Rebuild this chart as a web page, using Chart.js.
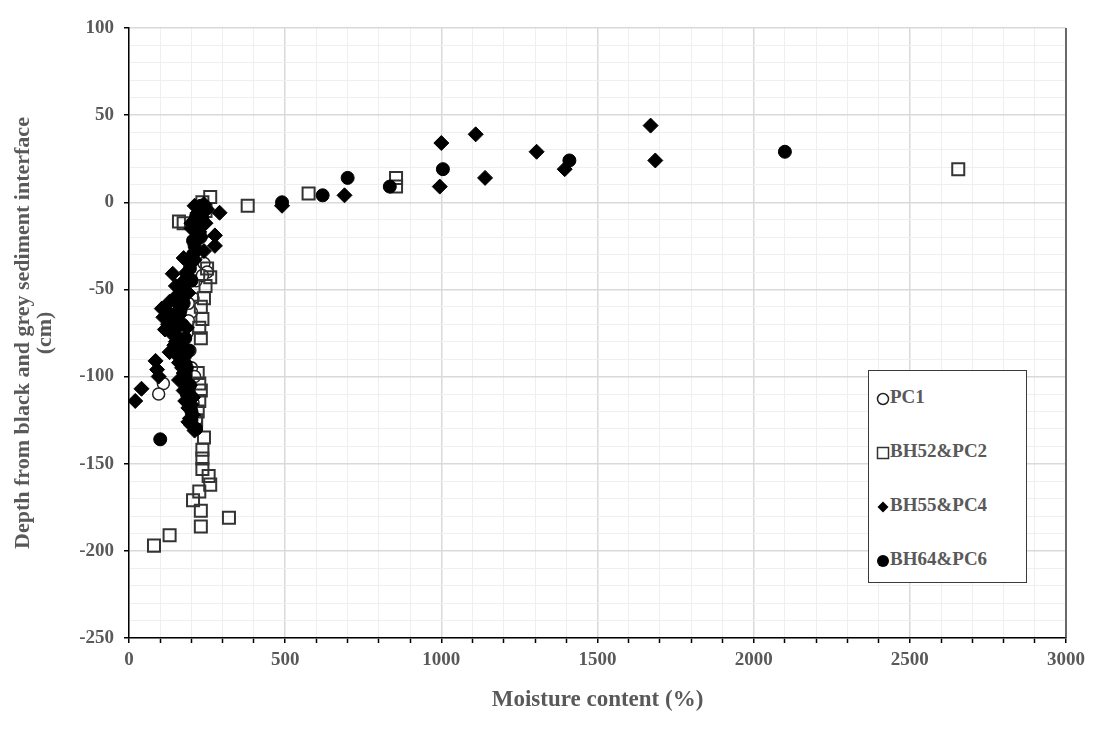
<!DOCTYPE html>
<html>
<head>
<meta charset="utf-8">
<script src="https://cdn.jsdelivr.net/npm/chart.js@4.4.1/dist/chart.umd.min.js"></script>
<style>
  body { margin: 0; background: #fff; }
  #wrap { position: relative; width: 1101px; height: 740px; }
  #legend {
    position: absolute; left: 868px; top: 370px; width: 157px; height: 211px;
    border: 1.5px solid #3a3a3a; background: #fff;
    font: bold 19px "Liberation Serif", serif; color: #595959;
  }
  .item { position: absolute; left: 7px; height: 20px; line-height: 20px; white-space: nowrap; }
  .mk { display: inline-block; vertical-align: middle; margin-right: 0px; }
</style>
</head>
<body>
<div id="wrap">
  <canvas id="chart" width="1101" height="740"></canvas>
  <div id="legend"></div>
</div>
<script>
// moisture content (%) / depth (cm) pairs per core
let pc1X = [110, 95, 225, 215, 205, 200, 190, 185, 195, 200, 210, 205, 215, 230, 215, 240, 250, 235, 190, 180];
let pc1Y = [-104, -110, -30, -45, -55, -63, -68, -75, -85, -95, -100, -115, -125, -20, -10, -35, -40, -42, -58, -88];

let bh52X = [260, 235, 245, 160, 175, 250, 260, 245, 240, 230, 235, 225, 230, 220, 225, 230, 225, 220, 215,
             240, 235, 235, 235, 255, 260, 225, 205, 230, 230, 320, 130, 80, 380, 575, 855, 855, 2655];
let bh52Y = [3, 0, -5, -11, -12, -38, -43, -48, -55, -60, -67, -72, -78, -98, -104, -108, -114, -120, -125,
             -135, -142, -147, -153, -157, -162, -166, -171, -177, -186, -181, -191, -197, -2, 5, 14, 9, 19];

let bh55X = [240, 250, 290, 230, 245, 275, 275, 225, 215, 240, 205, 140, 200, 185, 175, 165, 150, 130, 120, 105,
             110, 125, 115, 140, 160, 145, 130, 155, 85, 90, 95, 40, 20, 170, 160, 175, 180, 190, 195, 200,
             210, 165, 185, 150, 175, 200, 225, 210, 190, 170, 155, 180, 195, 205,
             210, 220, 200, 230, 210, 190, 165, 145, 130, 140, 150, 165, 175, 185, 195, 200, 205, 190, 180, 160,
             490, 690, 1000, 995, 1110, 1140, 1305, 1395, 1670, 1685];
let bh55Y = [-1, -4, -6, -8, -12, -19, -25, -17, -22, -28, -30, -41, -35, -40, -45, -50, -54, -57, -62, -61,
             -66, -70, -73, -76, -65, -82, -86, -88, -91, -96, -100, -107, -114, -95, -102, -108, -114, -118, -124, -128,
             -131, -60, -72, -48, -32, -15, -3, -10, -52, -85, -78, -92, -105, -112,
             -2, -6, -12, -20, -33, -46, -55, -64, -68, -72, -80, -84, -98, -104, -110, -116, -122, -126, -88, -92,
             -2, 4, 34, 9, 39, 14, 29, 19, 44, 24];

let bh64X = [225, 220, 210, 195, 180, 165, 150, 160, 170, 180, 185, 200, 215, 100, 230, 235, 200, 190, 175, 205,
             215, 225, 205, 185, 170, 155, 145, 170, 180, 185, 195, 200, 190, 210,
             490, 620, 700, 835, 1005, 1410, 2100];
let bh64Y = [-5, -15, -25, -38, -52, -62, -70, -80, -90, -100, -110, -120, -130, -136, -2, -10, -45, -85, -58, -22,
             -8, -18, -30, -42, -48, -57, -75, -70, -78, -95, -105, -125, -115, -12,
             0, 4, 14, 9, 19, 24, 29];

let seriesNames = ['PC1', 'BH52&PC2', 'BH55&PC4', 'BH64&PC6'];
let xTicks = [0, 500, 1000, 1500, 2000, 2500, 3000];
let yTicks = [-250, -200, -150, -100, -50, 0, 50, 100];

function pairs(xs, ys) {
	return xs.map((x, i) => ({ x: x, y: ys[i] }));
}

const grey = '#595959';
const serif = '"Liberation Serif", "Times New Roman", serif';

const frame = {
	id: 'frame',
	afterDraw(chart) {
		const a = chart.chartArea;
		const ctx = chart.ctx;
		ctx.save();
		ctx.strokeStyle = '#404040';
		ctx.lineWidth = 1.5;
		ctx.beginPath();
		ctx.moveTo(a.right, a.top);
		ctx.lineTo(a.right, a.bottom);
		ctx.stroke();
		ctx.restore();
	}
};

// lower order is drawn on top
const datasets = [
	{ label: seriesNames[0], data: pairs(pc1X, pc1Y), pointStyle: 'circle', pointRadius: 6, order: 3,
	  backgroundColor: '#fff', borderColor: '#222', borderWidth: 1.5 },
	{ label: seriesNames[1], data: pairs(bh52X, bh52Y), pointStyle: 'rect', pointRadius: 8.5, order: 2,
	  backgroundColor: 'rgba(255,255,255,0)', borderColor: '#333', borderWidth: 2 },
	{ label: seriesNames[2], data: pairs(bh55X, bh55Y), pointStyle: 'rectRot', pointRadius: 7.5, order: 0,
	  backgroundColor: '#000', borderColor: '#000', borderWidth: 1 },
	{ label: seriesNames[3], data: pairs(bh64X, bh64Y), pointStyle: 'circle', pointRadius: 6.5, order: 1,
	  backgroundColor: '#000', borderColor: '#000', borderWidth: 1 }
];

new Chart(document.getElementById('chart'), {
	type: 'scatter',
	data: { datasets: datasets },
	options: {
		responsive: false,
		animation: false,
		layout: { padding: { left: 0, top: 28, right: 35, bottom: 0 } },
		plugins: { legend: { display: false }, tooltip: { enabled: false } },
		scales: {
			x: {
				min: 0, max: 3000,
				afterFit: s => { s.height = 102; },
				border: { color: '#000', width: 1.5 },
				grid: {
					color: c => xTicks.includes(c.tick.value) ? '#d9d9d9' : '#efefef',
					lineWidth: c => xTicks.includes(c.tick.value) ? 1.5 : 1,
					tickColor: '#000', tickLength: 5, tickWidth: 1.5
				},
				ticks: {
					stepSize: 100, autoSkip: false, maxRotation: 0, padding: 6,
					color: grey, font: { family: serif, size: 19, weight: 'bold' },
					callback: v => xTicks.includes(v) ? String(v) : ''
				},
				title: {
					display: true, text: 'Moisture content (%)', color: grey,
					font: { family: serif, size: 23, weight: 'bold' },
					padding: { top: 0, bottom: 26 }
				}
			},
			y: {
				min: -250, max: 100,
				afterFit: s => { s.width = 129; },
				border: { color: '#000', width: 1.5 },
				grid: {
					color: c => yTicks.includes(c.tick.value) ? '#d9d9d9' : '#efefef',
					lineWidth: c => yTicks.includes(c.tick.value) ? 1.5 : 1,
					tickColor: c => yTicks.includes(c.tick.value) ? '#000' : 'rgba(0,0,0,0)',
					tickLength: 5, tickWidth: 1.5
				},
				ticks: {
					stepSize: 10, autoSkip: false, padding: 10,
					color: grey, font: { family: serif, size: 19, weight: 'bold' },
					callback: v => yTicks.includes(v) ? String(v) : ''
				},
				title: {
					display: true,
					text: ['Depth from black and grey sediment interface', '(cm)'],
					color: grey,
					font: { family: serif, size: 22, weight: 'bold', lineHeight: 1.0 },
					padding: { top: 12, bottom: 0 }
				}
			}
		}
	},
	plugins: [frame]
});

// legend in the box on the right
const marks = [
	'<svg class="mk" width="14" height="14"><circle cx="7" cy="7" r="5.5" fill="#fff" stroke="#222" stroke-width="1.5"/></svg>',
	'<svg class="mk" width="14" height="14"><rect x="1.5" y="1.5" width="11" height="11" fill="#fff" stroke="#333" stroke-width="1.5"/></svg>',
	'<svg class="mk" width="14" height="14"><polygon points="7,1.5 12.5,7 7,12.5 1.5,7" fill="#000"/></svg>',
	'<svg class="mk" width="14" height="14"><circle cx="7" cy="7" r="6" fill="#000"/></svg>'
];
const legend = document.getElementById('legend');
seriesNames.forEach((name, i) => {
	const d = document.createElement('div');
	d.className = 'item';
	d.style.top = (16 + i * 54) + 'px';
	d.innerHTML = marks[i] + name;
	legend.appendChild(d);
});
</script>
</body>
</html>
